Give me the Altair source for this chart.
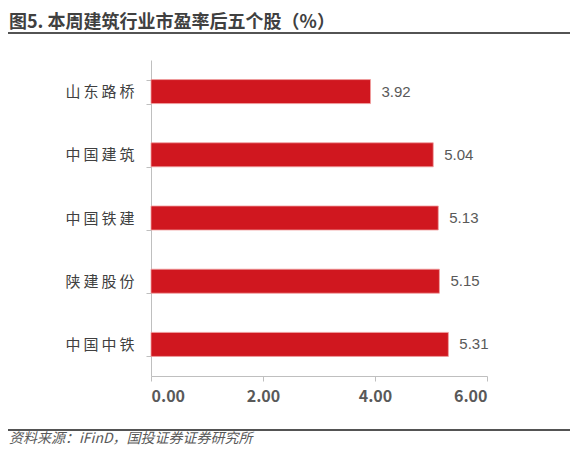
import altair as alt
import pandas as pd

stocks = ['山东路桥', '中国建筑', '中国铁建', '陕建股份', '中国中铁']
pe_values = [3.92, 5.04, 5.13, 5.15, 5.31]
x_ticks = [0, 2, 4, 6]
title_text = '图5. 本周建筑行业市盈率后五个股（%）'
source_text = '资料来源：iFinD，国投证券证券研究所'

df = pd.DataFrame({'stock': stocks, 'pe': pe_values})
one = pd.DataFrame({'t': [0]})

RED = '#D0171F'
GRAY = '#595959'
CJK = 'Noto Sans CJK SC'

base = alt.Chart(df).encode(
    y=alt.Y(
        'stock:N',
        sort=stocks,
        title=None,
        scale=alt.Scale(paddingInner=0.62, paddingOuter=0.31),
        axis=alt.Axis(
            labelFont=CJK, labelFontSize=15, labelColor='#404040',
            labelExpr="join(split(datum.label, ''), '\u2009')",
            labelPadding=12, tickBand='extent', tickSize=5,
            tickColor='#BFBFBF', domainColor='#BFBFBF', grid=False,
        ),
    ),
    x=alt.X(
        'pe:Q',
        title=None,
        scale=alt.Scale(domain=[0, 6], nice=False),
        axis=alt.Axis(
            values=x_ticks, format='.2f', grid=False,
            labelFont=CJK, labelFontSize=16, labelFontWeight='bold',
            labelColor=GRAY, labelPadding=7, tickSize=5,
            tickColor='#BFBFBF', domainColor='#BFBFBF',
        ),
    ),
)

bars = base.mark_bar(color=RED, stroke='#F0A0A0', strokeWidth=0.8)
labels = base.mark_text(
    align='left', dx=11, font='Liberation Sans', fontSize=15, color=GRAY
).encode(text=alt.Text('pe:Q', format='.2f'))

title = alt.Chart(one).mark_text(
    align='left', baseline='middle', font=CJK, fontSize=18,
    fontWeight='bold', color='#404040'
).encode(x=alt.value(-142), y=alt.value(-37), text=alt.value(title_text))

top_rule = alt.Chart(one).mark_rule(color='#1a1a1a', strokeWidth=1.5).encode(
    x=alt.value(-143), x2=alt.value(419), y=alt.value(-27)
)
bottom_rule = alt.Chart(one).mark_rule(color='#1a1a1a', strokeWidth=1.5).encode(
    x=alt.value(-143), x2=alt.value(419), y=alt.value(370)
)

source = alt.Chart(one).mark_text(
    align='left', baseline='middle', font=CJK, fontSize=14,
    fontStyle='italic', color=GRAY
).encode(x=alt.value(-142), y=alt.value(379), text=alt.value(source_text))

chart = alt.layer(bars, labels, title, top_rule, bottom_rule, source).properties(
    width=336,
    height=316,
    autosize=alt.AutoSizeParams(type='none'),
    padding={'left': 143, 'top': 52, 'right': 83, 'bottom': 72},
).configure_view(stroke=None)

chart.save('out.html', embed_options={'renderer': 'svg', 'actions': False})
